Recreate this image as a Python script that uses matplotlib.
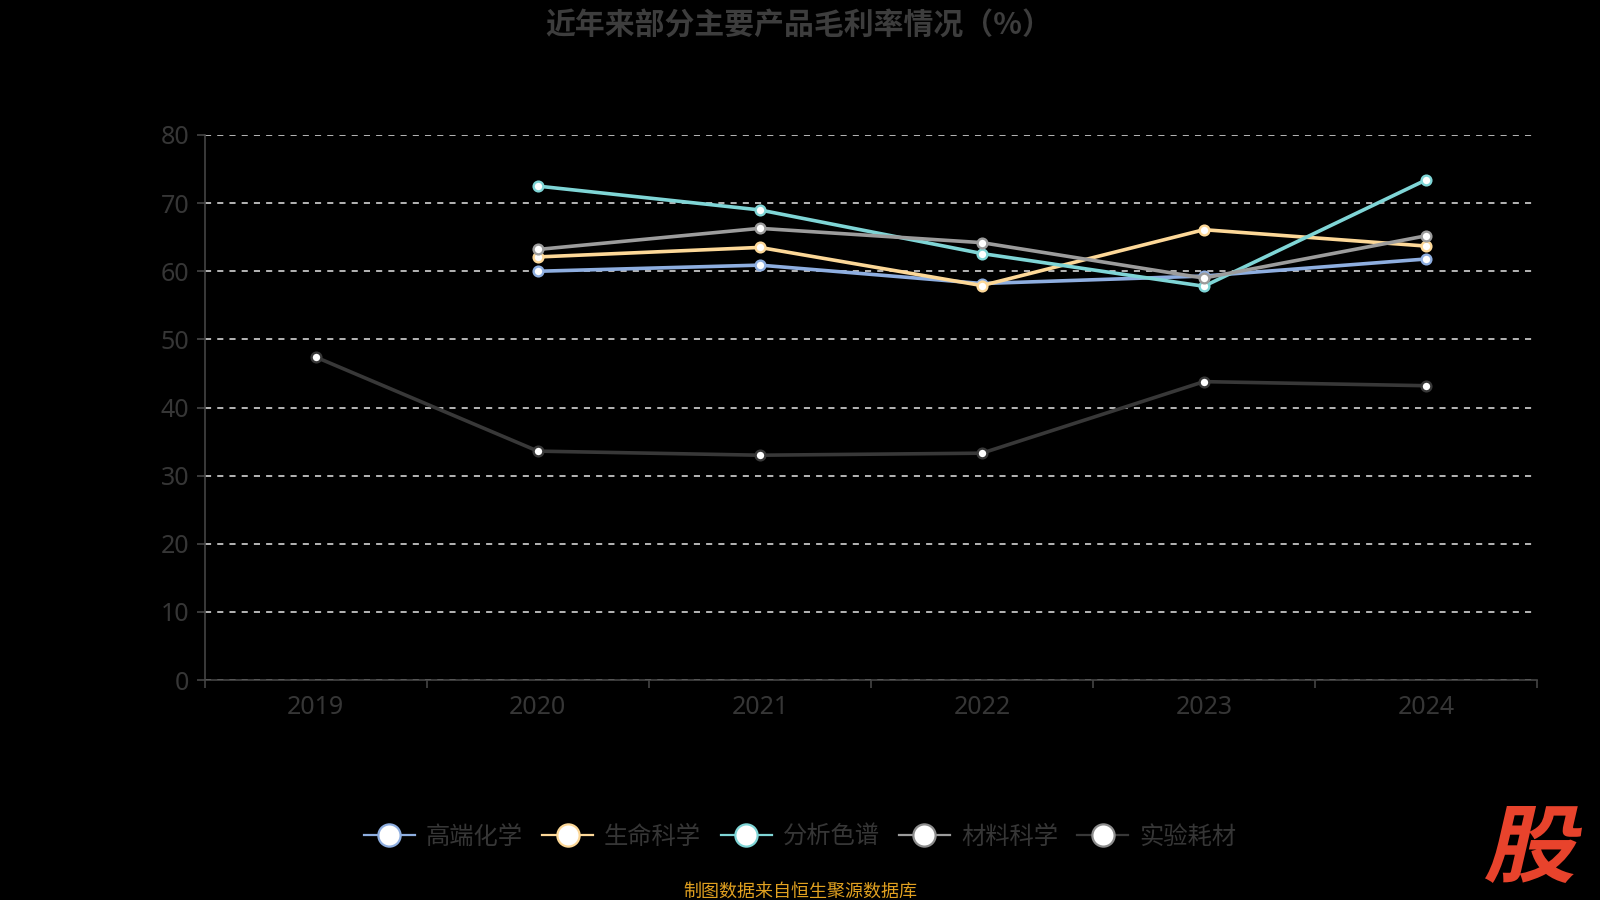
import matplotlib
matplotlib.use('Agg')
import matplotlib.pyplot as plt
from matplotlib.lines import Line2D
from matplotlib.textpath import TextPath
from matplotlib.font_manager import FontProperties
from matplotlib.patches import PathPatch
from matplotlib.transforms import Affine2D, IdentityTransform
import numpy as np

plt.rcParams['font.family'] = ['Noto Sans CJK SC', 'DejaVu Sans']

years = ['2019', '2020', '2021', '2022', '2023', '2024']
high_chem = [None, 60.0, 60.9, 58.2, 59.3, 61.8]
life_sci = [None, 62.1, 63.5, 57.9, 66.1, 63.7]
chromatography = [None, 72.5, 69.0, 62.6, 57.8, 73.4]
material_sci = [None, 63.2, 66.3, 64.2, 59.0, 65.2]
consumables = [47.4, 33.6, 33.0, 33.3, 43.8, 43.2]

series = [
    ('高端化学', high_chem, '#8eaee0'),
    ('生命科学', life_sci, '#fdd898'),
    ('分析色谱', chromatography, '#7fd5d6'),
    ('材料科学', material_sci, '#9c9c9c'),
    ('实验耗材', consumables, '#383838'),
]
legend_edge = ['#8eaee0', '#fdd898', '#7fd5d6', '#8c8c8c', '#8c8c8c']

fig = plt.figure(figsize=(16, 9), dpi=100, facecolor='black')
ax = fig.add_axes([0.128, 0.2444, 0.8326, 0.6056])
ax.set_facecolor('black')

x = np.arange(len(years))
for name, vals, color in series:
    xs = [i for i, v in enumerate(vals) if v is not None]
    ys = [v for v in vals if v is not None]
    ax.plot(xs, ys, color=color, lw=2.6, marker='o', ms=7,
            mfc='white', mec=color, mew=1.7, zorder=3)

ax.set_xlim(-0.5, 5.5)
ax.set_ylim(0, 80)
ax.set_yticks(range(0, 81, 10))
ax.grid(axis='y', color='#e6e6e6', ls=(0, (4, 4)), lw=1.1)
ax.set_axisbelow(True)

ax.set_xticks(x)
ax.set_xticklabels(years)
ax.set_xticks(np.arange(-0.5, 6, 1), minor=True)
ax.tick_params(axis='x', which='major', length=0, pad=11, labelsize=18, labelcolor='#363636')
ax.tick_params(axis='x', which='minor', length=6, color='#444444', width=1.2)
ax.tick_params(axis='y', length=6, color='#444444', width=1.2, pad=5, labelsize=18, labelcolor='#363636')
for lab in ax.get_xticklabels() + ax.get_yticklabels():
    lab.set_family('Noto Sans')

for side in ['top', 'right']:
    ax.spines[side].set_visible(False)
for side in ['left', 'bottom']:
    ax.spines[side].set_color('#444444')
    ax.spines[side].set_linewidth(1.2)

fig.text(0.4995, 0.972, '近年来部分主要产品毛利率情况（%）', ha='center', va='center',
         fontsize=21.5, fontweight='bold', color='#3d3d3d')

handles = [Line2D([0], [0], color=c, lw=1.6, marker='o', ms=16, mfc='white', mec=e, mew=1.6)
           for (_, _, c), e in zip(series, legend_edge)]
leg = fig.legend(handles, [s[0] for s in series], loc='center', bbox_to_anchor=(0.5, 0.07),
                 ncol=5, frameon=False, fontsize=17.5, handlelength=2.1, handletextpad=0.45,
                 columnspacing=0.8)
for t in leg.get_texts():
    t.set_color('#363636')

fig.text(0.5, 0.009, '制图数据来自恒生聚源数据库', ha='center', va='center',
         fontsize=13, color='#e0a020')

# watermark, slanted
tp = TextPath((0, 0), '股', size=80, prop=FontProperties(family='Noto Sans CJK SC', weight='black'))
tp = Affine2D().skew_deg(12, 0).transform_path(tp)
ext = tp.get_extents()
box_x0, box_y0, box_w, box_h = 1485, 17, 97, 77
tr = (Affine2D().translate(-ext.x0, -ext.y0)
      .scale(box_w / ext.width, box_h / ext.height)
      .translate(box_x0, box_y0))
fig.patches.append(PathPatch(tr.transform_path(tp), facecolor='#e8432c', edgecolor='none',
                             transform=IdentityTransform(), figure=fig))

fig.savefig('out.png', dpi=100, facecolor='black')
